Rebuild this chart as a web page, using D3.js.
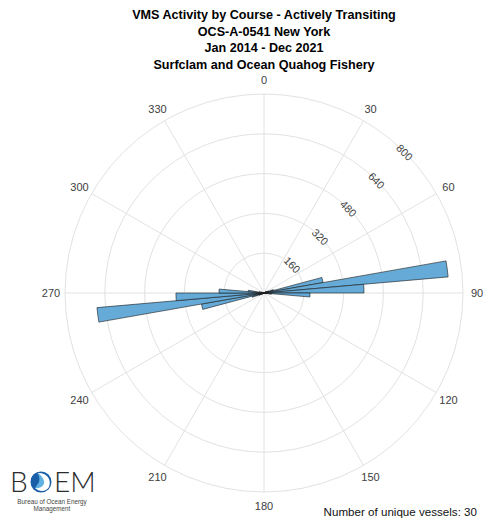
<!DOCTYPE html>
<html>
<head>
<meta charset="utf-8">
<script src="https://cdn.jsdelivr.net/npm/d3@7"></script>
<style>
  html, body { margin: 0; padding: 0; background: #fff; }
  svg { display: block; font-family: "Liberation Sans", Arial, Helvetica, sans-serif; }
</style>
</head>
<body>
<svg id="chart" width="484" height="522"></svg>
<script>
// Title block
const titleLines = [
  "VMS Activity by Course - Actively Transiting",
  "OCS-A-0541 New York",
  "Jan 2014 - Dec 2021",
  "Surfclam and Ocean Quahog Fishery"
];

// Course bins (degrees, 5° wide) and VMS record counts per bin
const binStart = [30, 45, 55, 60, 65, 70, 75, 80, 85, 90, 95, 100, 105,
                  210, 230, 240, 245, 250, 255, 260, 265, 270, 275, 280, 285, 290];
const binWidth = 5;
const counts   = [3, 4, 8, 12, 20, 40, 241, 743, 402, 185, 30, 12, 5,
                  3, 4, 12, 22, 50, 255, 674, 354, 181, 64, 20, 10, 4];

// Axis ticks
const rTicks = [160, 320, 480, 640, 800];
const thetaTicks = [0, 30, 60, 90, 120, 150, 180, 210, 240, 270, 300, 330];
const rMax = 800;

const vesselNote = "Number of unique vessels: 30";

const svg = d3.select("#chart");
const cx = 264, cy = 293, R = 199;

const r = d3.scaleLinear().domain([0, rMax]).range([0, R]);
const toRad = d => d * Math.PI / 180;

// Title
svg.append("g").selectAll("text").data(titleLines).join("text")
  .attr("x", 264)
  .attr("y", (d, i) => 19 + i * 16.5)
  .attr("text-anchor", "middle")
  .attr("font-size", "12.6px")
  .attr("font-weight", "bold")
  .attr("fill", "#000")
  .text(d => d);

const g = svg.append("g").attr("transform", `translate(${cx},${cy})`);

// Angular grid (spokes)
g.append("g").selectAll("line").data(thetaTicks).join("line")
  .attr("x1", 0).attr("y1", 0)
  .attr("x2", d => R * Math.sin(toRad(d)))
  .attr("y2", d => -R * Math.cos(toRad(d)))
  .attr("stroke", "#e2e2e2").attr("stroke-width", 1);

// Radial grid (rings)
g.append("g").selectAll("circle").data(rTicks).join("circle")
  .attr("r", d => r(d))
  .attr("fill", "none")
  .attr("stroke", "#e2e2e2").attr("stroke-width", 1);

// Histogram wedges
const arc = d3.arc().innerRadius(0);
g.append("g").selectAll("path").data(binStart.map((s, i) => ({ s, v: counts[i] }))).join("path")
  .attr("d", d => arc({ outerRadius: r(d.v), startAngle: toRad(d.s), endAngle: toRad(d.s + binWidth) }))
  .attr("fill", "#66aad7")
  .attr("stroke", "#1a1a1a")
  .attr("stroke-width", 0.6)
  .attr("stroke-linejoin", "round");

// Angle labels
g.append("g").selectAll("text").data(thetaTicks).join("text")
  .attr("x", d => 213 * Math.sin(toRad(d)))
  .attr("y", d => -213 * Math.cos(toRad(d)))
  .attr("text-anchor", "middle")
  .attr("dominant-baseline", "central")
  .attr("font-size", "11px")
  .attr("fill", "#404040")
  .text(d => d);

// Radial tick labels along 45°
const labAng = toRad(45);
g.append("g").selectAll("text").data(rTicks).join("text")
  .attr("transform", d => `translate(${r(d) * Math.sin(labAng)},${-r(d) * Math.cos(labAng)}) rotate(45)`)
  .attr("text-anchor", "middle")
  .attr("dominant-baseline", "central")
  .attr("font-size", "10.8px")
  .attr("fill", "#404040")
  .text(d => d);

// Footer note
svg.append("text")
  .attr("x", 477).attr("y", 516)
  .attr("text-anchor", "end")
  .attr("font-size", "11.6px")
  .attr("fill", "#111")
  .text(vesselNote);

// Agency logo
const logo = svg.append("g");
const logoFont = "Lato, 'Open Sans', sans-serif";
logo.append("text").attr("x", 10).attr("y", 492)
  .attr("font-family", logoFont).attr("font-weight", 300)
  .attr("font-size", "28px").attr("fill", "#2b2b2b").text("B");
const oc = logo.append("g").attr("transform", "translate(41,482)");
oc.append("circle").attr("r", 10.5).attr("fill", "#1b5ea8");
oc.append("circle").attr("r", 8.2).attr("fill", "#5fb0e3");
oc.append("path")
  .attr("d", "M-4,-9 C6,-10 11,-2 8,5 C5,10 -2,10 -6,6 C0,7 4,3 3,-1 C2,-5 -1,-8 -4,-9 Z")
  .attr("fill", "#ffffff");
oc.append("path")
  .attr("d", "M-10,-2 C-9,-7 -6,-9 -4,-9 C-2,-7 -1,-4 -2,0 C-4,3 -5,5 -6,6 C-9,4 -10,1 -10,-2 Z")
  .attr("fill", "#1b5ea8");
logo.append("text").attr("x", 54).attr("y", 492)
  .attr("font-family", logoFont).attr("font-weight", 300)
  .attr("font-size", "28px").attr("fill", "#2b2b2b").text("EM");
logo.append("text").attr("x", 52).attr("y", 504)
  .attr("text-anchor", "middle").attr("font-size", "6.3px").attr("fill", "#444")
  .text("Bureau of Ocean Energy");
logo.append("text").attr("x", 52).attr("y", 511)
  .attr("text-anchor", "middle").attr("font-size", "6.3px").attr("fill", "#444")
  .text("Management");
</script>
</body>
</html>
